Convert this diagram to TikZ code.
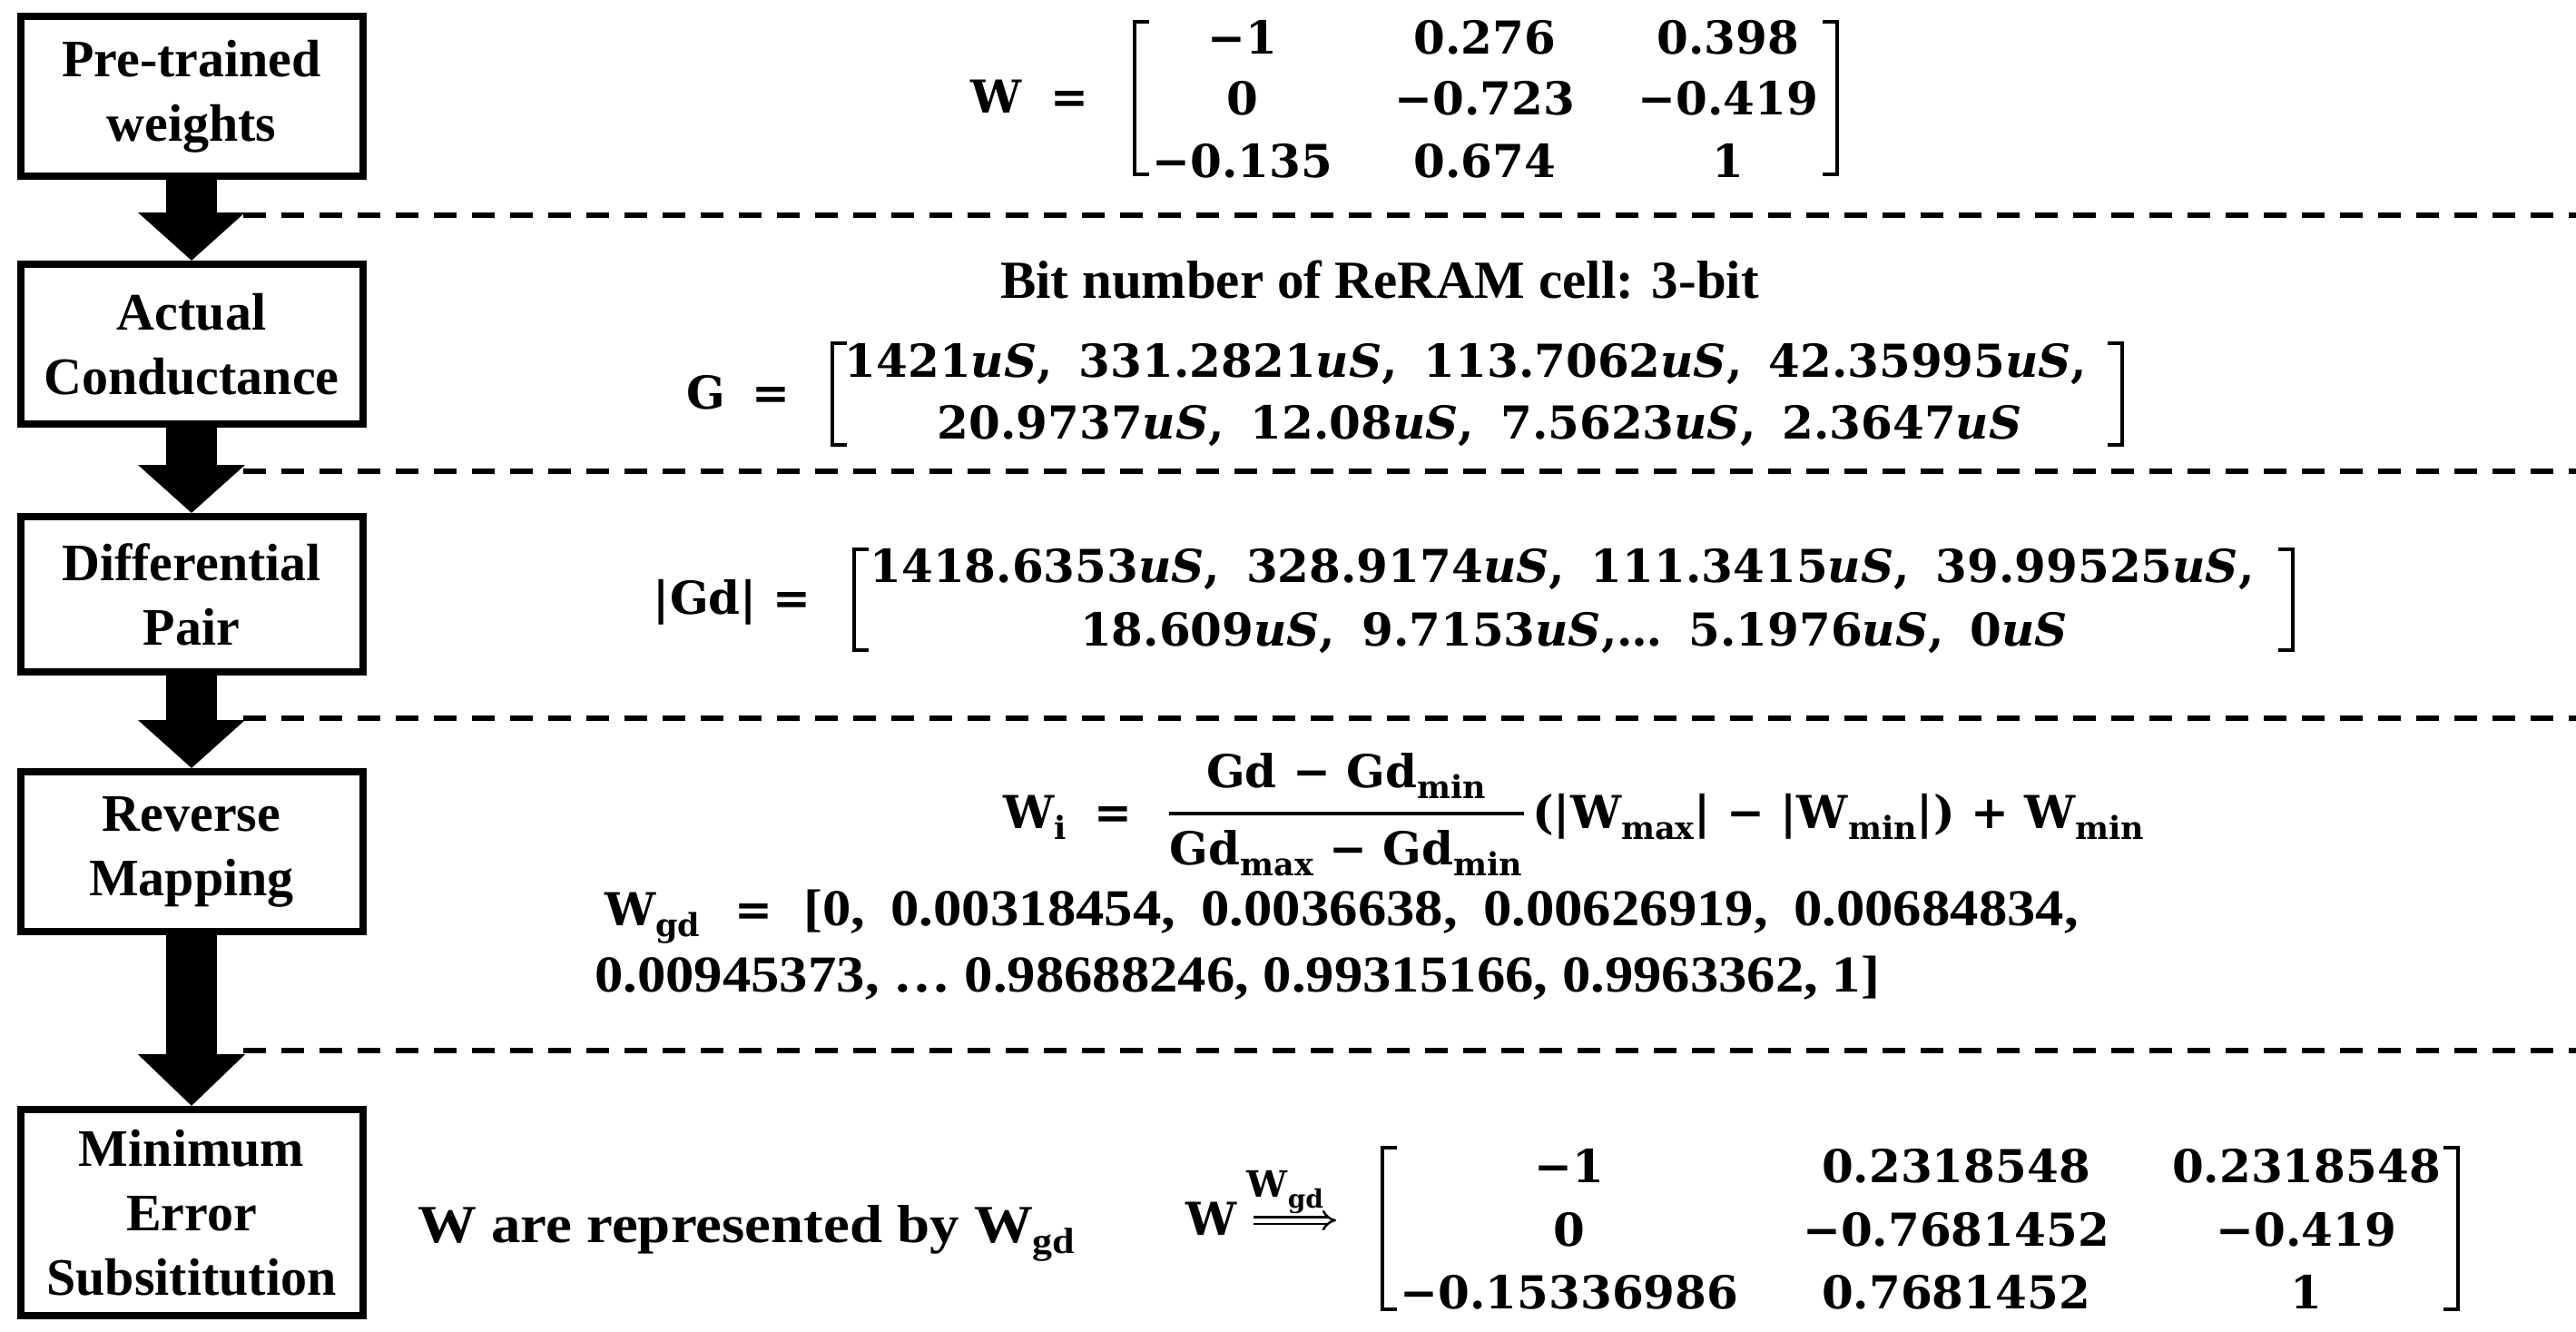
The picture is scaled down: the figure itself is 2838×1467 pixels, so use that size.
\documentclass[tikz,border=0pt]{standalone}
\usepackage{fontspec}
\usetikzlibrary{arrows.meta}
\newfontfamily\libfont{Liberation Serif}
\newfontfamily\libwide[FakeStretch=1.1]{Liberation Serif}
\newfontfamily\dvfont{DejaVu Serif}
\newcommand\boxfont{\libfont\bfseries\fontsize{58}{71}\selectfont}
\newcommand\txfont{\libfont\bfseries\fontsize{59}{70}\selectfont}
\newcommand\wdfont{\libwide\bfseries\fontsize{57}{70}\selectfont}
\newcommand\mfont{\dvfont\bfseries\fontsize{50}{60}\selectfont}
\newcommand\smfont{\dvfont\bfseries\fontsize{40}{48}\selectfont}
\newcommand\uS{\textit{uS}}
\newcommand\lowsub[2]{\smash{\raisebox{-12pt}{\fontsize{#1}{#1}\selectfont #2}}}
\newcommand\gapw{\hspace{0.5em}}
\newcommand\gapm{\hspace{0.58em}}
\tikzset{
  boxnode/.style={draw, line width=8pt, minimum width=377pt, inner sep=0pt, align=center, font=\boxfont, fill=white},
  flow/.style={line width=56pt, -{Triangle[width=115pt,length=53pt]}},
  sepline/.style={line width=5.5pt, dash pattern=on 25pt off 17pt},
  brk/.style={line width=3.5pt},
  mt/.style={inner sep=0pt, anchor=base, font=\mfont},
  mtw/.style={inner sep=0pt, anchor=base west, font=\mfont},
  tx/.style={inner sep=0pt, anchor=base west, font=\txfont},
  txw/.style={inner sep=0pt, anchor=base west, font=\wdfont},
}
\begin{document}
\begin{tikzpicture}[x=1pt, y=-1pt]
\path[use as bounding box, fill=white] (0,0) rectangle (2838,1467);

% separators
\draw[sepline] (268,237) -- (2838,237);
\draw[sepline] (268,519) -- (2838,519);
\draw[sepline] (268,791) -- (2838,791);
\draw[sepline] (268,1157) -- (2838,1157);

% flow boxes
\node[boxnode, minimum height=176pt] (b1) at (211,106) {Pre-trained\\weights};
\node[boxnode, minimum height=176pt] (b2) at (211,379) {Actual\\Conductance};
\node[boxnode, minimum height=171pt] (b3) at (211,654.5) {Differential\\Pair};
\node[boxnode, minimum height=176pt] (b4) at (211,938) {Reverse\\Mapping};
\node[boxnode, minimum height=227pt] (b5) at (211,1335.5) {Minimum\\Error\\Subsititution};

\draw[flow] (b1.south) -- (b2.north);
\draw[flow] (b2.south) -- (b3.north);
\draw[flow] (b3.south) -- (b4.north);
\draw[flow, -{Triangle[width=115pt,length=57pt]}] (b4.south) -- (b5.north);

% section 1: W matrix
\node[mt] (w1) at (1098,124) {W};
\node[mt] (eq1) at (1178,124) {=};
\draw[brk] (1266,24) -- (1250,24) -- (1250,192) -- (1266,192);
\draw[brk] (2008,24) -- (2024,24) -- (2024,192) -- (2008,192);
\node[mt] (m11) at (1369,59) {−1};
\node[mt] (m12) at (1636,59) {0.276};
\node[mt] (m13) at (1904,59) {0.398};
\node[mt] (m21) at (1369,126) {0};
\node[mt] (m22) at (1636,126) {−0.723};
\node[mt] (m23) at (1904,126) {−0.419};
\node[mt] (m31) at (1369,195) {−0.135};
\node[mt] (m32) at (1636,195) {0.674};
\node[mt] (m33) at (1904,195) {1};

% section 2: G
\node[inner sep=0pt, anchor=base, font=\txfont] (bits) at (1520,328) {Bit number of ReRAM cell: 3-bit};
\node[mt] (gl) at (778,450) {G};
\node[mt] (eq2) at (849,450) {=};
\draw[brk] (933,378) -- (917,378) -- (917,490) -- (933,490);
\draw[brk] (2322,378) -- (2338,378) -- (2338,490) -- (2322,490);
\node[mt] (g1) at (1615,415) {1421\uS,\gapm 331.2821\uS,\gapm 113.7062\uS,\gapm 42.35995\uS,};
\node[mt] (g2) at (1630,483) {20.9737\uS,\gapm 12.08\uS,\gapm 7.5623\uS,\gapm 2.3647\uS};

% section 3: |Gd|
\node[mt] (gdl) at (777,676) {|Gd|};
\node[mt] (eq3) at (872,676) {=};
\draw[brk] (957,605) -- (941,605) -- (941,716) -- (957,716);
\draw[brk] (2510,605) -- (2526,605) -- (2526,716) -- (2510,716);
\node[mt] (d1) at (1721,641) {1418.6353\uS,\gapm 328.9174\uS,\gapm 111.3415\uS,\gapm 39.99525\uS,};
\node[mt] (d2) at (1734,711) {18.609\uS,\gapm 9.7153\uS,…\gapm 5.1976\uS,\gapm 0\uS};

% section 4: reverse mapping
\node[mtw] (wi) at (1105,912) {W\lowsub{35}{i}};
\node[mt] (eq4) at (1226,912) {=};
\node[mt] (num) at (1483,867) {Gd − Gd\lowsub{35}{min}};
\node[mt] (den) at (1483,952) {Gd\lowsub{35}{max} − Gd\lowsub{35}{min}};
\draw[line width=3.5pt] (1288,896) -- (1679,896);
\node[mtw] (rest) at (1688,912) {(|W\lowsub{35}{max}| − |W\lowsub{35}{min}|) + W\lowsub{35}{min}};
\node[mtw] (wgd) at (666,1019) {W\lowsub{35}{gd}};
\node[mt] (eq5) at (830,1019) {=};
\node[txw] (l1) at (885,1019) {[0,\gapw 0.00318454,\gapw 0.0036638,\gapw 0.00626919,\gapw 0.00684834,};
\node[txw] (l2) at (655,1092) {0.00945373, … 0.98688246, 0.99315166, 0.9963362, 1]};

% section 5: substitution
\node[tx, font=\libwide\bfseries\fontsize{59}{70}\selectfont] (rep) at (460,1368) {W are represented by W\lowsub{40}{gd}};
\node[mtw] (wl) at (1306,1360) {W};
\coordinate (ae) at (1472,1344);
\draw[double, double distance=5pt, line width=2.5pt, -{Implies}] (wl.east |- ae) ++(18,0) coordinate (as) -- (ae);
\node[inner sep=0pt, anchor=base, font=\smfont] (albl) at (1416,1318) {W\lowsub{28}{gd}};
\draw[brk] (1539,1264) -- (1523,1264) -- (1523,1442) -- (1539,1442);
\draw[brk] (2692,1264) -- (2708,1264) -- (2708,1442) -- (2692,1442);
\node[mt] (n11) at (1729,1302) {−1};
\node[mt] (n12) at (2155,1302) {0.2318548};
\node[mt] (n13) at (2541,1302) {0.2318548};
\node[mt] (n21) at (1729,1372) {0};
\node[mt] (n22) at (2155,1372) {−0.7681452};
\node[mt] (n23) at (2541,1372) {−0.419};
\node[mt] (n31) at (1729,1441) {−0.15336986};
\node[mt] (n32) at (2155,1441) {0.7681452};
\node[mt] (n33) at (2541,1441) {1};
\end{tikzpicture}
\end{document}
